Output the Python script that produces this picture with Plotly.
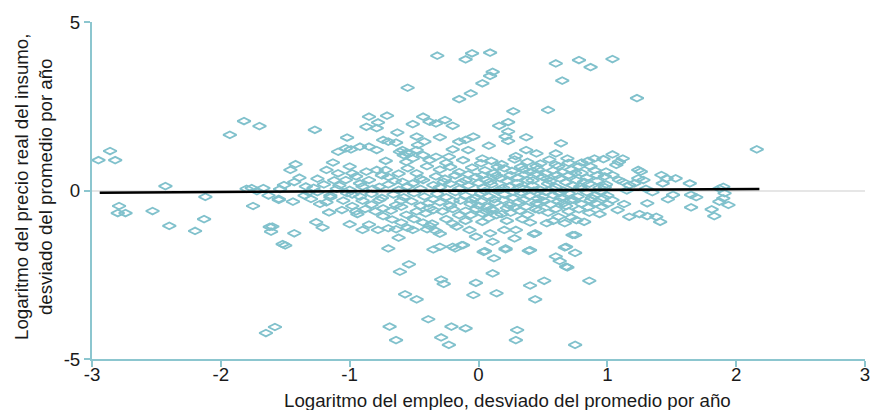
import plotly.graph_objects as go

# Observations (employment deviation, input real price deviation), grouped by chart region
pts_left = [
    (-2.95, 0.90), (-2.86, 1.17), (-2.82, 0.90), (-2.79, -0.46), (-2.80, -0.67), (-2.74, -0.67),
    (-2.53, -0.61), (-2.43, 0.13), (-2.40, -1.05), (-2.20, -1.20), (-2.13, -0.85), (-2.12, -0.19),
    (-1.93, 1.65), (-1.82, 2.06), (-1.70, 1.91), (-1.75, -0.46), (-1.76, 0.07), (-1.67, 0.07),
    (-1.62, -1.08), (-1.61, -1.22), (-1.60, -1.07), (-1.52, -1.59), (-1.50, -1.63), (-1.65, -4.23),
    (-1.58, -4.05), (-1.55, -0.25), (-1.54, 0.04), (-1.51, 0.16), (-1.46, 0.61), (-1.42, 0.78),
    (-1.43, 0.25), (-1.39, 0.38), (-1.43, -1.27), (-1.44, -0.33), (-1.55, -0.28), (-1.27, 1.80),
    (-1.80, 0.05), (-1.72, -0.02), (-1.63, -0.15), (-1.30, -0.25), (-1.25, -0.05), (-1.15, -0.15),
    (-1.10, 0.05), (-1.35, -0.15), (-1.05, -0.30), (-0.98, -0.12), (-1.18, -0.35), (-1.34, 0.12),
    (-1.26, -0.94), (-1.21, -1.10), (-1.00, -1.00), (-0.90, -1.17), (-0.85, -1.01), (-0.78, -1.17),
    (-0.70, -1.12), (-0.64, -1.15), (-0.62, -1.40), (-1.16, -0.65), (-1.06, -0.58), (-0.94, -0.70),
    (-1.23, -0.40), (-0.74, -0.76), (-0.67, -0.86), (-0.55, -1.11), (-0.51, -1.17), (-0.41, -0.68),
    (-0.35, -0.58), (-0.39, -0.38), (-0.64, -0.43), (-0.74, -0.53), (-0.77, -0.28), (-0.43, -0.95),
    (-0.38, -1.05), (-0.33, -1.20), (-0.30, -1.28), (-0.40, -1.15), (-0.36, -0.98),
]

pts_top = [
    (-0.32, 4.00), (-0.10, 3.89), (-0.05, 4.07), (0.09, 4.09), (0.11, 3.52), (0.09, 3.40),
    (0.03, 3.18), (-0.06, 2.88), (-0.15, 2.71), (-0.55, 3.05), (0.60, 3.77), (0.78, 3.87),
    (0.87, 3.66), (0.65, 3.26), (0.27, 2.35), (0.54, 2.39), (0.23, 2.03), (0.16, 1.92),
    (0.23, 1.75), (0.21, 1.60), (0.23, 1.47), (0.37, 1.58), (0.64, 1.40), (0.08, 1.33),
    (-0.04, 1.60), (-0.20, 1.92), (-0.26, 2.09), (1.04, 3.90), (1.23, 2.74),
    (-0.30, 1.58), (-0.15, 1.45), (-0.10, 1.50), (-0.08, 1.20), (0.37, 1.20), (0.29, 1.02),
    (0.45, 1.10), (0.60, 1.10), (0.69, 0.95), (0.80, 0.83), (0.90, 0.95), (0.97, 0.93),
    (0.99, 0.56), (0.87, 0.71), (0.60, 0.76), (0.03, 0.95), (0.02, 0.81), (-0.23, 1.00),
    (-0.20, 1.22), (-0.85, 2.19), (-0.71, 2.22), (-0.78, 2.02), (-0.87, 1.89), (-0.79, 1.85),
    (-0.51, 1.97), (-0.43, 2.19), (-0.38, 2.04), (-0.33, 1.99), (-1.02, 1.57), (-0.63, 1.72),
    (-0.48, 1.60), (-0.74, 1.50), (-0.70, 1.45), (-0.64, 1.42), (-0.47, 1.35), (-0.42, 1.45),
    (-0.92, 1.30), (-0.85, 1.30), (-1.09, 1.15), (-1.03, 1.25), (-0.99, 1.22), (-0.79, 1.20),
    (-0.61, 1.15), (-0.59, 1.20), (-0.48, 1.20), (-0.54, 1.10), (-0.72, 0.88), (-1.13, 0.83),
    (-1.18, 0.61), (-1.20, 0.18), (-1.09, 0.51), (-1.00, 0.71), (-0.98, 0.51), (-0.87, 0.56),
    (-0.79, 0.61), (-0.72, 0.61), (-0.56, 0.85), (-0.51, 0.95), (-0.43, 1.05), (-0.38, 0.90),
    (-0.33, 1.00), (-0.55, 0.66), (-0.48, 0.51), (-1.03, 0.31), (-0.92, 0.21), (-0.85, 0.31),
    (-0.77, 0.11), (-0.59, 0.26), (-0.51, 0.21), (-0.43, 0.31), (-0.35, 0.16), (-0.58, 1.05),
    (-0.56, 1.12),
]

pts_bottom = [
    (-0.70, -1.72), (-0.61, -2.41), (-0.54, -2.19), (-0.57, -3.08), (-0.48, -3.23), (-0.39, -3.82),
    (-0.69, -4.04), (-0.64, -4.44), (-0.29, -2.64), (-0.27, -2.77), (-0.21, -4.04), (-0.10, -4.09),
    (-0.29, -4.36), (-0.23, -4.58), (-0.02, -2.74), (-0.04, -3.10), (0.14, -3.05), (0.11, -2.46),
    (0.30, -4.14), (0.29, -4.44), (0.44, -3.23), (0.40, -2.82), (0.51, -2.68), (0.75, -4.58),
    (0.86, -2.68), (0.68, -2.26), (0.60, -1.96), (0.63, -2.09), (0.68, -1.67), (0.75, -1.85),
    (0.75, -1.32), (0.44, -1.27), (0.39, -1.79), (0.21, -1.75), (0.12, -2.01), (0.04, -1.82),
    (-0.12, -1.62), (-0.18, -1.72), (-0.30, -1.67), (-0.35, -1.75), (-0.15, -0.73), (-0.06, -0.73),
    (0.03, -0.68), (0.11, -0.58), (0.14, -0.73), (0.03, -0.93), (0.25, -0.66), (-0.17, -1.07),
    (-0.07, -1.17), (-0.02, -1.37), (0.09, -1.27), (0.11, -1.52), (0.20, -1.17), (0.29, -1.17),
    (0.28, -1.42), (0.43, -1.29), (0.47, -0.58), (0.45, -0.38), (0.53, -0.97), (0.62, -0.78),
    (0.67, -0.97), (0.76, -0.88), (0.82, -0.93), (0.94, -0.70), (0.91, -0.38), (0.73, -1.32),
    (0.05, -1.80), (0.21, -1.72), (0.40, -1.77), (0.67, -1.69), (0.69, -2.28), (-0.20, -1.67),
    (-0.13, -1.62),
]

pts_right = [
    (1.04, -0.28), (1.13, -0.40), (1.08, -0.58), (1.17, -0.78), (1.31, -0.38), (1.31, -0.76),
    (1.38, -0.78), (1.41, -0.93), (1.47, -0.26), (1.51, -0.13), (1.65, -0.13), (1.69, -0.20),
    (1.65, -0.50), (1.81, -0.56), (1.83, -0.76), (1.87, -0.33), (1.91, -0.08), (1.94, -0.43),
    (1.90, -0.23), (1.04, 1.07), (1.12, 0.95), (1.09, 0.85), (1.07, 0.76), (1.24, 0.61),
    (1.26, 0.56), (1.04, 0.46), (1.09, 0.31), (1.24, 0.36), (1.28, 0.31), (1.42, 0.46),
    (1.46, 0.36), (1.53, 0.36), (1.43, 0.21), (1.64, 0.21), (1.90, 0.11), (1.87, 0.06),
    (2.16, 1.22), (1.17, 0.16), (1.21, 0.21), (1.12, 0.26), (1.15, 0.00), (1.30, 0.05),
    (1.35, -0.05), (1.00, -0.15), (0.98, 0.10), (1.25, -0.70),
]

pts_core = [
    (-0.25, 0.82), (-0.12, 0.90), (0.10, 0.88), (0.18, 0.78), (0.28, 0.92), (0.38, 0.85),
    (0.48, 0.80), (0.55, 0.92), (0.70, 0.82), (0.78, 0.72), (0.85, 0.88),
    (-0.30, 0.62), (-0.22, 0.70), (-0.15, 0.55), (-0.05, 0.68), (0.05, 0.60), (0.12, 0.52),
    (0.20, 0.66), (0.26, 0.58), (0.33, 0.70), (0.40, 0.55), (0.46, 0.63), (0.52, 0.50),
    (0.58, 0.60), (0.65, 0.55), (0.72, 0.62), (0.80, 0.52), (0.90, 0.60), (-0.40, 0.72),
    (-0.62, 0.50),
    (-0.33, 0.42), (-0.26, 0.35), (-0.18, 0.45), (-0.10, 0.30), (-0.02, 0.40), (0.06, 0.32),
    (0.14, 0.44), (0.22, 0.28), (0.30, 0.38), (0.36, 0.48), (0.42, 0.30), (0.50, 0.40),
    (0.56, 0.28), (0.63, 0.36), (0.70, 0.45), (0.76, 0.30), (0.84, 0.38), (0.92, 0.28),
    (0.98, 0.42), (-0.70, 0.40), (-0.65, 0.28), (-0.95, 0.42), (-1.12, 0.30),
    (-0.30, 0.10), (-0.22, 0.20), (-0.15, 0.05), (-0.08, 0.15), (0.00, 0.22), (0.04, 0.08),
    (0.10, 0.18), (0.16, 0.02), (0.24, 0.12), (0.30, 0.22), (0.35, 0.05), (0.42, 0.15),
    (0.48, 0.02), (0.54, 0.20), (0.60, 0.10), (0.66, 0.00), (0.73, 0.16), (0.80, 0.05),
    (0.86, 0.20), (0.94, 0.08), (-0.45, 0.05), (-0.55, 0.12), (-0.62, 0.02), (-0.70, 0.18),
    (-0.82, 0.05), (-0.90, 0.12), (-1.00, 0.02), (-1.28, 0.08),
    (-0.32, -0.10), (-0.25, -0.20), (-0.18, -0.05), (-0.10, -0.15), (-0.03, -0.22), (0.02, -0.08),
    (0.08, -0.18), (0.15, -0.02), (0.20, -0.12), (0.27, -0.22), (0.33, -0.06), (0.40, -0.16),
    (0.46, -0.24), (0.52, -0.04), (0.58, -0.14), (0.64, -0.22), (0.70, -0.08), (0.77, -0.18),
    (0.84, -0.05), (0.90, -0.15), (0.97, -0.22), (-0.42, -0.18), (-0.50, -0.08), (-0.58, -0.20),
    (-0.66, -0.12), (-0.75, -0.22), (-0.83, -0.10), (-0.92, -0.18), (-1.02, -0.08),
    (-0.30, -0.35), (-0.22, -0.45), (-0.14, -0.30), (-0.06, -0.40), (0.02, -0.32), (0.07, -0.48),
    (0.13, -0.36), (0.19, -0.28), (0.24, -0.44), (0.31, -0.34), (0.37, -0.48), (0.50, -0.30),
    (0.56, -0.42), (0.62, -0.32), (0.68, -0.46), (0.74, -0.28), (0.80, -0.40), (0.87, -0.30),
    (0.96, -0.48), (-0.45, -0.45), (-0.52, -0.32), (-0.60, -0.48), (-0.83, -0.42), (-0.90, -0.30),
    (-0.98, -0.46),
    (-0.28, -0.62), (-0.20, -0.55), (-0.10, -0.60), (-0.02, -0.55), (0.06, -0.62), (0.18, -0.70),
    (0.22, -0.52), (0.32, -0.60), (0.38, -0.72), (0.54, -0.66), (0.60, -0.55), (0.70, -0.62),
    (0.78, -0.56), (0.86, -0.66), (-0.48, -0.62), (-0.56, -0.72), (-0.80, -0.62), (-0.88, -0.55),
    (-0.25, -0.85), (-0.10, -0.90), (0.08, -0.82), (0.22, -0.90), (0.34, -0.85), (0.40, -0.95),
    (0.58, -0.90), (0.72, -0.80), (-0.50, -0.85), (-0.60, -0.95), (-0.20, -0.98),
    (0.03, 0.45), (0.09, 0.26), (0.17, 0.36), (0.25, 0.46), (0.32, 0.10), (0.38, 0.30),
    (0.45, 0.50), (0.53, 0.34), (0.61, 0.46), (0.68, 0.24), (0.75, 0.52), (0.82, 0.26),
    (0.05, -0.02), (0.12, -0.26), (0.19, 0.08), (0.27, -0.04), (0.35, -0.28), (0.43, 0.00),
    (0.50, -0.18), (0.57, 0.06), (0.63, -0.08), (0.71, -0.30), (0.79, 0.12), (0.88, -0.22),
    (-0.05, -0.28), (-0.13, 0.24), (-0.20, -0.30), (-0.27, 0.26), (-0.35, -0.26), (0.00, -0.45),
    (0.10, -0.55), (0.28, -0.50), (0.44, -0.55), (0.47, -0.40), (0.66, -0.38), (0.85, -0.50),
    (0.15, 0.70), (0.35, 0.62), (0.62, 0.72), (0.45, 0.72), (-0.08, 0.48), (0.92, 0.45),
    (0.95, -0.02), (0.99, 0.18), (1.00, -0.40), (-0.38, -0.52), (-0.45, 0.35), (-0.60, -0.30),
    (-0.68, -0.60), (-0.75, 0.45), (-0.95, -0.62), (-1.08, 0.15), (-1.15, -0.20), (-1.25, 0.35),
    (-1.32, -0.05),
]

# Fitted regression line end points
fit_x = [-2.94, 2.18]
fit_y = [-0.065, 0.045]

x_ticks = [-3, -2, -1, 0, 1, 2, 3]
y_ticks = [-5, 0, 5]

x_title = "Logaritmo del empleo, desviado del promedio por año"
y_title = "Logaritmo del precio real del insumo,<br>desviado del promedio por año"

all_pts = pts_left + pts_top + pts_bottom + pts_right + pts_core
emp_dev = [p[0] for p in all_pts]
price_dev = [p[1] for p in all_pts]

teal = "#80c1cc"
axis_col = "#8cc6cf"
txt_col = "#1a1a1a"
fs = 18.7

fig = go.Figure()
fig.add_trace(go.Scatter(
    x=emp_dev, y=price_dev, mode="markers",
    marker=dict(symbol="diamond-wide-open", size=9.5, color=teal, line=dict(width=1.8, color=teal)),
    showlegend=False, hoverinfo="skip",
))
fig.add_trace(go.Scatter(
    x=fit_x, y=fit_y, mode="lines",
    line=dict(color="black", width=2.6), showlegend=False, hoverinfo="skip",
))

# The page body adds an 8px offset at top-left, so the figure is 8px smaller
fig.update_layout(
    width=876, height=402,
    margin=dict(l=84, r=19, t=14, b=51),
    paper_bgcolor="white", plot_bgcolor="white",
    font=dict(family="Liberation Sans, Arial, sans-serif", size=fs, color=txt_col),
    xaxis=dict(
        range=[-3, 3], tickvals=x_ticks, ticktext=[str(v) for v in x_ticks],
        showline=True, linecolor=axis_col, linewidth=2,
        ticks="outside", ticklen=6, tickwidth=2, tickcolor=axis_col,
        showgrid=False, zeroline=False, automargin=False,
        tickfont=dict(size=fs, color=txt_col), ticklabelstandoff=-8,
    ),
    yaxis=dict(
        range=[-5, 5], tickvals=y_ticks, ticktext=[str(v) for v in y_ticks],
        showline=True, linecolor=axis_col, linewidth=2,
        ticks="outside", ticklen=6, tickwidth=2, tickcolor=axis_col,
        showgrid=True, gridcolor="#e6e6e6", gridwidth=2, zeroline=False, automargin=False,
        tickfont=dict(size=fs, color=txt_col),
    ),
    annotations=[
        dict(text=x_title, xref="paper", yref="paper", x=0.538, y=-0.122,
             xanchor="center", yanchor="middle", showarrow=False,
             font=dict(size=fs, color=txt_col)),
        dict(text=y_title, xref="paper", yref="paper", x=-0.0765, y=0.51,
             xanchor="center", yanchor="middle", showarrow=False, textangle=-90,
             font=dict(size=fs, color=txt_col)),
    ],
)

fig.write_html("out.html")
